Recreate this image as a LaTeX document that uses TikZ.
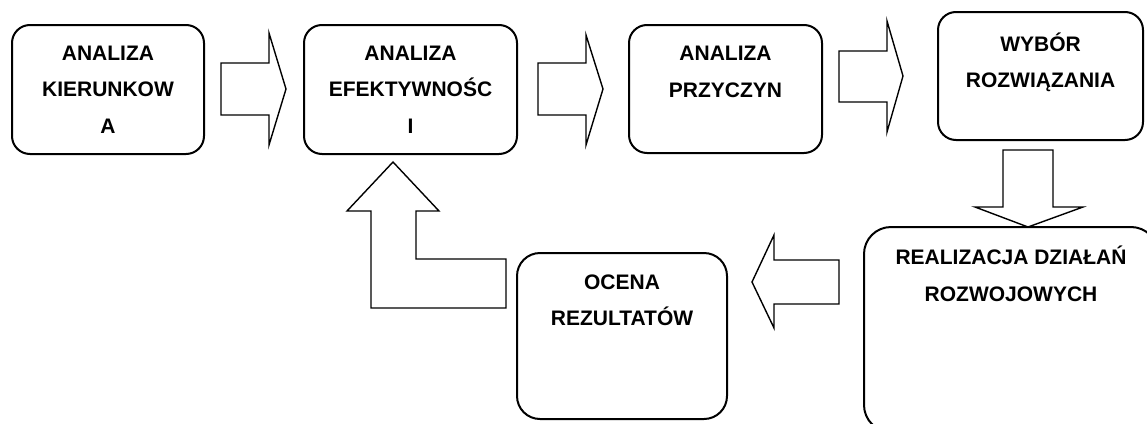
\documentclass[tikz,border=0pt]{standalone}
\usepackage{fontspec}
\setmainfont{Liberation Sans}
\newcommand{\steptextfont}{\fontsize{21}{36.5}\selectfont\bfseries}
\tikzset{
    % Rounded step box
    stepbox/.style={
        draw=black,
        fill=white,
        rounded corners=18pt,
        line width=2pt,
        inner sep=0pt
    },
    % Title inside a step box (placed by the baseline of its last line)
    steptext/.style={
        anchor=base,
        align=center,
        inner sep=0pt,
        font=\steptextfont
    },
    % Block arrow outline
    blockarrow/.style={
        draw=black,
        fill=white,
        line width=1.4pt,
        line join=miter
    }
}

\begin{document}
\begin{tikzpicture}[x=1pt, y=-1pt]
        \clip (0,0) rectangle (1147,423);
        \fill[white] (0,0) rectangle (1147,423);

        % Boxes
        \node[stepbox, minimum width=192pt, minimum height=129pt] (kier) at (108,89.5) {};
        \node[stepbox, minimum width=213pt, minimum height=129pt] (efek) at (410.5,89.5) {};
        \node[stepbox, minimum width=193pt, minimum height=128pt] (przy) at (725.5,89) {};
        \node[stepbox, minimum width=205pt, minimum height=128pt] (wybor) at (1040.5,76) {};
        \node[stepbox, rounded corners=27pt, minimum width=294pt, minimum height=205pt] (real) at (1011,329.5) {};
        \node[stepbox, rounded corners=23pt, minimum width=210pt, minimum height=166pt] (ocena) at (622,336) {};

        % Titles
        \node[steptext, yshift=-109pt] (kiertxt) at (kier.north) {ANALIZA\\KIERUNKOW\\A};
        \node[steptext, yshift=-109pt] (efektxt) at (efek.north) {ANALIZA\\EFEKTYWNOŚC\\I};
        \node[steptext, yshift=-73pt] (przytxt) at (przy.north) {ANALIZA\\PRZYCZYN};
        \node[steptext, yshift=-76.5pt] (wybortxt) at (wybor.north) {WYBÓR\\ROZWIĄZANIA};
        \node[steptext, yshift=-75pt] (realtxt) at (real.north) {REALIZACJA DZIAŁAŃ\\ROZWOJOWYCH};
        \node[steptext, yshift=-73.5pt] (ocenatxt) at (ocena.north) {OCENA\\REZULTATÓW};

        % Block arrows
        \draw[blockarrow] (221,63) -- (269,63) -- (269,33) -- (286,89) -- (269,145) -- (269,115) -- (221,115) -- cycle;
        \draw[blockarrow] (538,63) -- (586,63) -- (586,35) -- (603,89) -- (586,145) -- (586,115) -- (538,115) -- cycle;
        \draw[blockarrow] (839,51) -- (887,51) -- (887,21) -- (903,76) -- (887,132) -- (887,102) -- (839,102) -- cycle;
        \draw[blockarrow] (1003,150) -- (1053,150) -- (1053,207) -- (1083,207) -- (1028,227) -- (975,207) -- (1003,207) -- cycle;
        \draw[blockarrow] (839,260) -- (774,260) -- (774,235) -- (752,282) -- (774,328) -- (774,304) -- (839,304) -- cycle;

        % Feedback arrow
        \draw[blockarrow] (506,259) -- (416,259) -- (416,211) -- (439,211) -- (393,162) -- (347,211) -- (371,211) -- (371,308) -- (506,308) -- cycle;
    \end{tikzpicture}
\end{document}
